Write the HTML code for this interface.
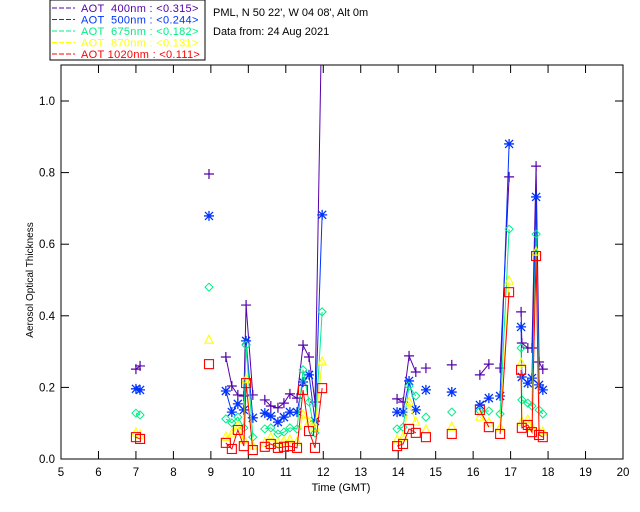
<!DOCTYPE html>
<html><head><meta charset="utf-8"><style>
html,body{margin:0;padding:0;background:#fff;width:640px;height:512px;overflow:hidden}
svg{display:block;font-family:"Liberation Sans",sans-serif}
.lg{white-space:pre}
</style></head><body>
<svg id="chart" width="640" height="512" xmlns="http://www.w3.org/2000/svg">
<rect x="50" y="0" width="155" height="60" fill="#fff" stroke="#000"/>
<text x="213" y="16" font-size="11">PML, N 50 22', W 04 08', Alt 0m</text>
<text x="213" y="35" font-size="11">Data from: 24 Aug 2021</text>
<g id="legend"></g>
<g id="axes"></g>
<g id="marks"></g>
</svg>
<script>
const times=[7.00,7.11,8.95,9.40,9.56,9.72,9.88,9.94,10.12,10.44,10.60,10.79,10.95,11.11,11.30,11.46,11.62,11.78,11.97,13.97,14.13,14.29,14.47,14.74,15.43,16.18,16.42,16.72,16.96,17.28,17.30,17.46,17.57,17.68,17.76,17.86];
const aot400=[.251,.260,.796,.285,.204,.179,.176,.430,.179,.165,.148,.143,.156,.182,.170,.318,.285,.159,1.3,.168,.159,.288,.243,.254,.263,.235,.265,.254,.788,.411,.324,.310,.310,.818,.271,.251];
const aot500=[.196,.193,.679,.190,.131,.154,.137,.330,.115,.128,.120,.103,.117,.131,.131,.215,.235,.106,.682,.131,.131,.218,.137,.193,.187,.151,.170,.176,.880,.369,.229,.212,.226,.732,.207,.193];
const aot675=[.128,.123,.480,.112,.101,.117,.087,.318,.061,.084,.087,.070,.075,.087,.084,.249,.159,.073,.411,.084,.089,.204,.176,.117,.131,.134,.134,.126,.642,.310,.165,.156,.148,.628,.137,.126];
const aot870=[.073,.067,.332,.061,.070,.092,.053,.221,.036,.045,.059,.045,.050,.053,.047,.123,.103,.089,.271,.053,.061,.159,.103,.081,.089,.117,.101,.087,.497,.268,.103,.109,.087,.578,.075,.075];
const aot1020=[.061,.056,.265,.045,.028,.081,.036,.212,.025,.034,.042,.031,.034,.036,.031,.193,.078,.031,.198,.036,.042,.084,.073,.061,.070,.137,.089,.070,.466,.249,.087,.095,.075,.567,.067,.061];
const xTicks=[5,6,7,8,9,10,11,12,13,14,15,16,17,18,19,20];
const yTicks=[0,0.2,0.4,0.6,0.8,1.0];
const legendLabels=["AOT  400nm : <0.315>","AOT  500nm : <0.244>","AOT  675nm : <0.182>","AOT  870nm : <0.131>","AOT 1020nm : <0.111>"];

const NS="http://www.w3.org/2000/svg";
const X0=61,X1=623,Y0=459,YT=65;
const xs=t=>X0+(t-5)*(X1-X0)/15;
const ys=v=>Y0-v*358;
function mk(tag,at,parent){const e=document.createElementNS(NS,tag);for(const k in at)e.setAttribute(k,at[k]);parent.appendChild(e);return e;}
const axes=document.getElementById('axes'),marks=document.getElementById('marks'),leg=document.getElementById('legend');

const frame=mk('rect',{x:X0,y:YT,width:X1-X0,height:Y0-YT,fill:'none',stroke:'#000'},axes);


xTicks.forEach(t=>{
  const x=xs(t);
  mk('line',{x1:x,y1:Y0,x2:x,y2:Y0-8,stroke:'#000'},axes);
  mk('line',{x1:x,y1:YT,x2:x,y2:YT+8,stroke:'#000'},axes);
  const l=mk('text',{x:x,y:Y0+17,'font-size':11.5,'text-anchor':'middle'},axes);
  l.textContent=t;
  
  
});
yTicks.forEach(v=>{
  const y=ys(v);
  mk('line',{x1:X0,y1:y,x2:X0+8,y2:y,stroke:'#000'},axes);
  mk('line',{x1:X1,y1:y,x2:X1-8,y2:y,stroke:'#000'},axes);
  const l=mk('text',{x:X0-6,y:y+4,'font-size':11.5,'text-anchor':'end'},axes);
  l.textContent=v.toFixed(1);
  
  
});
const xt=mk('text',{x:341,y:491,'font-size':11,'text-anchor':'middle'},axes);
xt.textContent='Time (GMT)';


const yt=mk('text',{x:0,y:0,'font-size':10,'text-anchor':'middle',transform:'translate(33,280) rotate(-90)'},axes);
yt.textContent='Aerosol Optical Thickness';



const series=[aot400,aot500,aot675,aot870,aot1020];
const colors=['#5500aa','#0033ff','#00ee88','#ffff00','#ff0000'];
const names=['aot-400','aot-500','aot-675','aot-870','aot-1020'];

legendLabels.forEach((s,i)=>{
  const y=11+i*11.5;
  mk('line',{x1:52,y1:y-3,x2:75,y2:y-3,stroke:colors[i],'stroke-dasharray':'5,2'},leg);
  const l=mk('text',{x:81,y:y+1,'font-size':11,'letter-spacing':'0.3',fill:colors[i],class:'lg'},leg);
  l.textContent=s;
  
  
});

const cp=mk('clipPath',{id:'clip'},marks);
mk('rect',{x:X0,y:YT,width:X1-X0,height:Y0-YT},cp);
series.forEach((vals,si)=>{
  const g=mk('g',{'clip-path':'url(#clip)'},marks);
  
  
  const c=colors[si];
  let d='';
  for(let i=0;i<times.length;i++){
    const x=xs(times[i]),y=ys(vals[i]);
    if(i>0&&times[i]-times[i-1]<=0.25) d+='L'+x+' '+y; else d+='M'+x+' '+y;
  }
  mk('path',{d:d,fill:'none',stroke:c,'stroke-width':1},g);
  for(let i=0;i<times.length;i++){
    const x=xs(times[i]),y=ys(vals[i]);
    let m;
    if(si===0) m=mk('path',{d:`M${x-5} ${y}H${x+5}M${x} ${y-5}V${y+5}`,stroke:c,fill:'none','stroke-width':1.2},g);
    else if(si===1) m=mk('path',{d:`M${x-5} ${y}H${x+5}M${x} ${y-5}V${y+5}M${x-4} ${y-4}L${x+4} ${y+4}M${x-4} ${y+4}L${x+4} ${y-4}`,stroke:c,fill:'none','stroke-width':1.3},g);
    else if(si===2) m=mk('path',{d:`M${x} ${y-4}L${x+4} ${y}L${x} ${y+4}L${x-4} ${y}Z`,stroke:c,fill:'none'},g);
    else if(si===3) m=mk('path',{d:`M${x} ${y-5}L${x+4} ${y+3}L${x-4} ${y+3}Z`,stroke:c,fill:'none','stroke-width':1.1},g);
    else m=mk('rect',{x:x-4.5,y:y-4.5,width:9,height:9,stroke:c,fill:'none','stroke-width':1.1},g);
    
    
  }
});
</script>
</body></html>
